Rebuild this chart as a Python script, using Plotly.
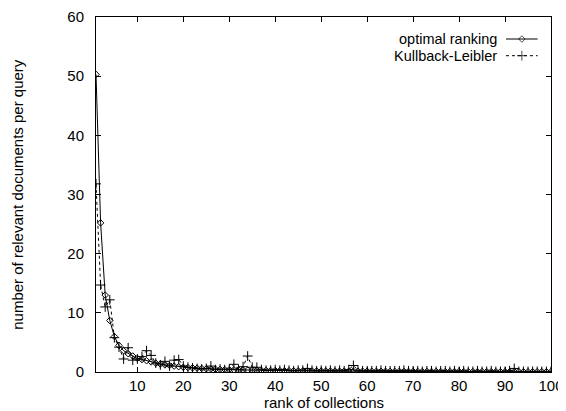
import plotly.graph_objects as go

rank = list(range(1, 101))

optimal = [50.3, 25.2, 13.0, 8.7, 6.0, 4.5, 3.6, 3.1, 2.7, 2.3,
           2.1, 1.9, 1.7, 1.5, 1.35, 1.2, 1.1, 1.0, 0.9, 0.8,
           0.75, 0.7, 0.65, 0.6, 0.55, 0.5, 0.47, 0.44, 0.42, 0.4,
           0.38, 0.36, 0.34, 0.32, 0.3, 0.29, 0.28, 0.27, 0.26, 0.25,
           0.24, 0.23, 0.22, 0.21, 0.2, 0.2, 0.19, 0.18, 0.18, 0.17,
           0.17, 0.16, 0.16, 0.15, 0.15, 0.14, 0.14, 0.14, 0.13, 0.13,
           0.13, 0.12, 0.12, 0.12, 0.11, 0.11, 0.11, 0.1, 0.1, 0.1,
           0.1, 0.09, 0.09, 0.09, 0.09, 0.08, 0.08, 0.08, 0.08, 0.08,
           0.07, 0.07, 0.07, 0.07, 0.07, 0.07, 0.06, 0.06, 0.06, 0.06,
           0.06, 0.06, 0.06, 0.05, 0.05, 0.05, 0.05, 0.05, 0.05, 0.05]

kullback = [31.8, 14.7, 11.0, 12.2, 5.8, 4.2, 2.2, 4.1, 2.0, 2.2,
            2.6, 3.6, 2.8, 1.5, 1.2, 1.8, 1.0, 2.0, 2.1, 1.0,
            0.8, 0.7, 0.6, 0.5, 0.6, 1.0, 0.4, 0.5, 0.4, 0.5,
            1.3, 0.4, 0.9, 2.7, 0.8, 0.8, 0.4, 0.3, 0.3, 0.4,
            0.3, 0.4, 0.3, 0.2, 0.3, 0.3, 0.6, 0.3, 0.2, 0.3,
            0.2, 0.3, 0.2, 0.3, 0.2, 0.4, 1.1, 0.3, 0.2, 0.2,
            0.2, 0.2, 0.3, 0.2, 0.2, 0.2, 0.2, 0.3, 0.2, 0.2,
            0.2, 0.1, 0.2, 0.2, 0.1, 0.2, 0.2, 0.1, 0.2, 0.1,
            0.2, 0.1, 0.1, 0.2, 0.1, 0.1, 0.2, 0.1, 0.1, 0.1,
            0.2, 0.6, 0.1, 0.1, 0.1, 0.1, 0.1, 0.1, 0.1, 0.1]

x_ticks = [10, 20, 30, 40, 50, 60, 70, 80, 90, 100]
y_ticks = [0, 10, 20, 30, 40, 50, 60]

series_names = ['optimal ranking', 'Kullback-Leibler']

font = 'Liberation Sans, Arial, Helvetica, sans-serif'

fig = go.Figure()

fig.add_trace(go.Scatter(
    x=rank, y=kullback, mode='lines+markers', name=series_names[1],
    line=dict(color='black', width=1, dash='3px,3px'),
    marker=dict(symbol='cross-thin-open', size=7, line=dict(color='black', width=1))
))
fig.add_trace(go.Scatter(
    x=rank, y=optimal, mode='lines+markers', name=series_names[0],
    line=dict(color='black', width=1),
    marker=dict(symbol='diamond-open', size=5, color='black', line=dict(color='#333', width=1))
))

# legend samples drawn gnuplot-style (key text right, sample on the right)
legend_rows = [0.938, 0.891]
fig.add_trace(go.Scatter(
    x=[0, 0.5, 1], y=[legend_rows[0]] * 3, xaxis='x2', yaxis='y2', mode='lines+markers',
    line=dict(color='black', width=1),
    marker=dict(symbol='diamond-open', size=[0, 5, 0], color='black', line=dict(color='black', width=1)),
    hoverinfo='skip'
))
fig.add_trace(go.Scatter(
    x=[0, 0.5, 1], y=[legend_rows[1]] * 3, xaxis='x2', yaxis='y2', mode='lines+markers',
    line=dict(color='black', width=1, dash='3px,3px'),
    marker=dict(symbol='cross-thin-open', size=[0, 7, 0], line=dict(color='black', width=1)),
    hoverinfo='skip'
))

for name, yrow in zip(series_names, legend_rows):
    fig.add_annotation(
        text=name, xref='paper', yref='paper', x=0.883, y=yrow,
        xanchor='right', yanchor='middle', showarrow=False,
        borderpad=0,
        font=dict(family=font, size=14.5, color='black')
    )

# axis titles placed as in the gnuplot original
fig.add_annotation(
    text='rank of collections', xref='paper', yref='paper', x=0.5, y=-0.087,
    xanchor='center', yanchor='middle', showarrow=False, borderpad=0,
    font=dict(family=font, size=15, color='black')
)
fig.add_annotation(
    text='number of relevant documents per query', xref='paper', yref='paper',
    x=-0.173, y=0.5, textangle=-90,
    xanchor='center', yanchor='middle', showarrow=False, borderpad=0,
    font=dict(family=font, size=15, color='black')
)

# the page body adds an 8px margin, so the figure is 8px smaller than the window
fig.update_layout(
    width=558,
    height=403,
    showlegend=False,
    plot_bgcolor='rgba(0,0,0,0)',
    paper_bgcolor='white',
    margin=dict(l=88, r=15, t=9, b=39),
    font=dict(family=font, size=15, color='black'),
    xaxis=dict(
        range=[1, 100],
        tickvals=x_ticks,
        ticks='inside',
        ticklen=5,
        tickcolor='black',
        showgrid=False,
        zeroline=False,
        showline=True,
        linecolor='black',
        linewidth=1,
        mirror='ticks',
        automargin=False,
        ticklabelstandoff=0,
        tickfont=dict(size=15)
    ),
    yaxis=dict(
        range=[0, 60],
        tickvals=y_ticks,
        ticks='inside',
        ticklen=5,
        tickcolor='black',
        showgrid=False,
        zeroline=False,
        showline=True,
        linecolor='black',
        linewidth=1,
        mirror='ticks',
        automargin=False,
        ticklabelstandoff=8,
        tickfont=dict(size=15)
    ),
    xaxis2=dict(domain=[0.901, 0.971], range=[0, 1], visible=False, anchor='y2', automargin=False),
    yaxis2=dict(domain=[0, 1], range=[0, 1], visible=False, anchor='x2', overlaying='y', automargin=False),
)

fig.write_html('out.html')
